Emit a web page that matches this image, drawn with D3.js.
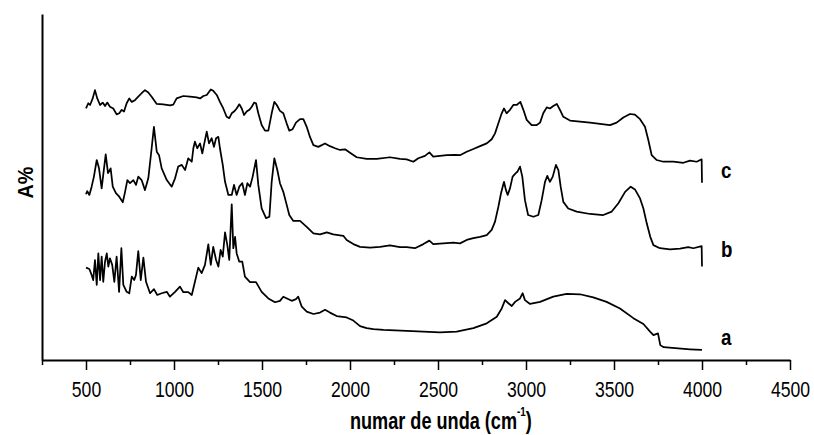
<!DOCTYPE html>
<html>
<head>
<meta charset="utf-8">
<script src="https://cdn.jsdelivr.net/npm/d3@7"></script>
<style>
  body { margin: 0; background: #fff; }
  svg text { font-family: "Liberation Sans", Arial, sans-serif; fill: #000; }
</style>
</head>
<body>
<div id="chart"></div>
<script>
// spectra (wavenumber cm-1, A% arbitrary units)
var waveC = [500,513,523,538,551,564,580,595,608,621,636,655,674,689,703,716,731,746,760,778,797,816,835,854,873,902,939,977,996,1015,1053,1091,1129,1148,1167,1186,1209,1223,1243,1261,1280,1299,1314,1328,1341,1356,1371,1385,1398,1413,1428,1442,1455,1466,1479,1498,1517,1536,1555,1570,1584,1602,1621,1640,1655,1674,1693,1716,1735,1754,1773,1792,1820,1858,1886,1915,1943,1972,2000,2038,2095,2152,2227,2284,2322,2360,2388,2426,2451,2473,2511,2550,2597,2625,2663,2701,2739,2777,2805,2824,2843,2862,2875,2890,2909,2928,2947,2968,2985,3004,3032,3061,3080,3098,3118,3136,3155,3175,3193,3212,3250,3364,3477,3515,3553,3591,3619,3648,3676,3695,3714,3743,3780,3837,3894,3932,3970,3998,4000];
var absC = [72.7,74.2,73.7,75.6,78.0,75.6,73.7,74.4,73.4,74.4,73.2,72.7,71.0,71.3,72.3,71.8,74.2,75.6,74.6,75.1,76.1,77.1,78.0,77.3,76.1,74.0,73.9,73.6,73.8,75.6,76.3,76.1,75.9,75.6,76.3,76.6,78.2,77.8,76.6,74.6,72.7,70.3,69.9,71.3,71.8,72.7,73.9,72.7,70.8,71.8,72.3,73.2,74.4,74.2,71.3,67.9,66.3,66.3,71.3,74.6,73.7,72.0,71.3,68.4,66.3,66.7,68.6,69.6,69.6,67.4,64.4,62.1,61.6,62.6,61.8,61.2,60.7,60.9,59.9,58.6,58.1,58.1,58.6,58.1,58.0,57.3,58.3,59.0,60.0,58.8,59.0,59.2,59.3,59.2,60.2,61.0,61.8,62.6,63.8,65.5,68.4,71.3,72.7,71.3,72.3,73.7,73.7,74.6,72.3,69.4,67.9,67.9,68.6,71.3,73.0,72.7,73.4,74.0,72.3,70.3,69.2,68.6,67.9,68.6,70.1,71.1,70.9,69.6,67.4,63.6,59.2,57.8,57.3,57.3,57.0,57.6,57.3,58.0,51.2];

var waveB = [500,507,519,532,545,561,574,589,598,612,625,640,652,670,689,709,722,735,750,769,784,797,816,835,854,873,886,902,915,930,959,987,1006,1024,1044,1063,1081,1101,1110,1119,1132,1148,1161,1170,1186,1199,1214,1227,1239,1252,1261,1277,1290,1309,1328,1341,1356,1371,1388,1403,1417,1432,1447,1466,1479,1498,1523,1542,1555,1570,1587,1602,1621,1636,1655,1678,1716,1754,1792,1830,1868,1905,1962,1981,2019,2057,2114,2171,2227,2284,2322,2369,2417,2451,2473,2530,2587,2625,2663,2701,2739,2777,2805,2824,2843,2858,2875,2886,2896,2909,2924,2942,2951,2966,2979,2994,3012,3042,3070,3089,3108,3121,3136,3152,3170,3184,3197,3212,3240,3288,3364,3439,3487,3525,3563,3595,3619,3648,3667,3686,3706,3724,3761,3818,3875,3922,3951,3998,4000];
var absB = [47.9,48.8,47.7,50.1,53.0,57.8,55.4,49.6,53.5,59.4,54.0,55.4,50.1,48.2,47.2,45.6,48.6,52.0,51.1,52.0,50.6,53.0,52.0,49.1,52.5,61.2,67.4,60.2,59.2,55.4,52.0,50.1,52.5,55.9,56.4,54.9,58.3,57.3,61.2,63.1,61.2,62.6,59.7,62.1,66.0,62.6,64.1,61.6,64.1,64.5,61.2,56.4,51.5,47.7,47.7,50.6,47.7,50.1,51.1,47.7,51.1,50.1,53.0,57.8,50.6,43.8,41.0,41.4,51.5,58.3,54.9,51.1,48.6,45.7,41.9,40.2,40.2,38.5,36.6,36.3,36.9,36.3,35.9,34.7,33.5,32.7,32.5,32.7,33.1,32.6,32.6,32.3,33.5,34.5,33.5,33.7,33.9,33.7,34.7,35.2,35.6,36.1,37.6,40.0,44.3,48.2,51.5,49.1,47.7,49.6,53.0,54.0,54.4,55.9,53.0,46.2,41.9,41.4,41.9,46.2,51.5,53.2,51.5,53.0,56.4,54.9,50.1,45.7,43.8,42.9,42.2,41.9,42.9,45.3,48.6,50.1,49.3,46.7,43.8,39.5,35.6,33.2,32.3,32.0,32.2,32.6,32.3,32.9,27.0];

var waveA = [500,519,532,541,551,561,570,580,589,598,608,618,627,636,649,661,674,688,701,712,731,746,760,774,784,797,811,826,841,864,886,905,930,959,977,1006,1034,1053,1081,1101,1119,1138,1157,1176,1195,1209,1223,1239,1252,1265,1277,1290,1303,1314,1328,1337,1347,1356,1371,1388,1403,1432,1466,1498,1536,1574,1602,1621,1669,1693,1706,1726,1754,1792,1830,1858,1886,1924,1981,2019,2057,2095,2133,2190,2322,2511,2606,2701,2777,2834,2862,2881,2900,2919,2938,2966,2981,2994,3023,3080,3155,3231,3307,3382,3458,3534,3610,3667,3705,3724,3750,3763,3782,3848,3932,4000];
var absA = [26.7,26.3,24.6,23.1,28.9,21.7,30.8,23.1,29.9,22.6,28.4,30.8,27.0,29.4,27.5,22.6,29.9,19.7,32.3,21.7,19.7,19.3,24.1,23.1,24.6,31.5,23.1,29.6,22.6,19.3,20.5,18.8,19.3,19.7,18.3,19.7,21.2,19.6,19.6,18.8,22.6,26.7,25.1,27.5,33.4,27.5,32.7,28.9,27.0,31.8,29.9,36.9,33.2,28.9,45.0,32.3,35.6,30.8,28.4,28.4,24.1,22.5,22.5,19.7,17.8,16.7,17.1,18.3,17.1,17.6,18.3,15.4,14.0,13.3,13.7,14.5,13.7,12.7,12.3,11.4,9.8,9.2,8.9,8.7,8.4,8.0,8.2,9.2,10.6,12.5,14.9,17.3,16.4,15.6,16.8,17.8,19.3,17.3,16.2,16.8,18.3,19.1,19.0,18.1,16.8,14.9,12.1,10.4,8.2,7.2,7.7,4.3,3.7,3.4,3.1,2.9];

var seriesNames = ["a", "b", "c"];
var xMajor = [500, 1000, 1500, 2000, 2500, 3000, 3500, 4000, 4500];
var xMinor = [250, 750, 1250, 1750, 2250, 2750, 3250, 3750, 4250];

var width = 814, height = 435;

var svg = d3.select("#chart")
  .append("svg")
  .attr("width", width)
  .attr("height", height)
  .style("background", "#fff");

var x = d3.scaleLinear().domain([250, 4500]).range([42, 790]);
var y = d3.scaleLinear().domain([0, 100]).range([360, 14]);

// minor ticks first, then major ones with labels
svg.append("g")
  .attr("transform", "translate(0,360)")
  .call(d3.axisBottom(x).tickValues(xMinor).tickSize(5).tickSizeOuter(0).tickFormat(""))
  .call(g => g.select(".domain").remove())
  .call(g => g.selectAll("line").attr("stroke-width", 1.5));

var xAxis = svg.append("g")
  .attr("transform", "translate(0,360)")
  .call(d3.axisBottom(x).tickValues(xMajor).tickSize(10).tickSizeOuter(0).tickFormat(d3.format("d")));

xAxis.select(".domain").attr("stroke-width", 2);
xAxis.selectAll("line").attr("stroke-width", 1.5);
xAxis.selectAll("text")
  .attr("y", 37)
  .attr("dy", null)
  .attr("font-size", 22)
  .attr("transform", "scale(0.8,1)");

svg.append("g")
  .attr("transform", "translate(42,0)")
  .call(d3.axisLeft(y).tickValues([]).tickSizeOuter(0))
  .select(".domain").attr("stroke-width", 2);

// the three spectra
var line = d3.line()
  .x(d => x(d[0]))
  .y(d => y(d[1]));

var spectra = [
  { name: "a", pts: d3.zip(waveA, absA), labelY: 4.3 },
  { name: "b", pts: d3.zip(waveB, absB), labelY: 29.8 },
  { name: "c", pts: d3.zip(waveC, absC), labelY: 52.6 }
];

svg.selectAll("path.spec")
  .data(spectra)
  .enter()
  .append("path")
  .attr("class", "spec")
  .attr("d", d => line(d.pts))
  .attr("fill", "none")
  .attr("stroke", "#000")
  .attr("stroke-width", 1.75)
  .attr("stroke-linejoin", "round");

svg.selectAll("text.lab")
  .data(spectra)
  .enter()
  .append("text")
  .attr("class", "lab")
  .attr("transform", d => "translate(" + (x(4000) + 19) + "," + y(d.labelY) + ") scale(0.85,1)")
  .attr("font-size", 22)
  .attr("font-weight", "bold")
  .text((d, i) => seriesNames[i]);

// axis titles
var xt = svg.append("text")
  .attr("transform", "translate(350,429) scale(0.755,1)")
  .attr("font-size", 24)
  .attr("font-weight", "bold");
xt.append("tspan").text("numar de unda (cm");
xt.append("tspan").attr("font-size", 13).attr("dy", -13).text("-1");
xt.append("tspan").attr("dy", 13).text(")");

svg.append("text")
  .attr("transform", "translate(33,182.5) rotate(-90) scale(0.9,1)")
  .attr("text-anchor", "middle")
  .attr("font-size", 22)
  .attr("font-weight", "bold")
  .text("A%");
</script>
</body>
</html>
